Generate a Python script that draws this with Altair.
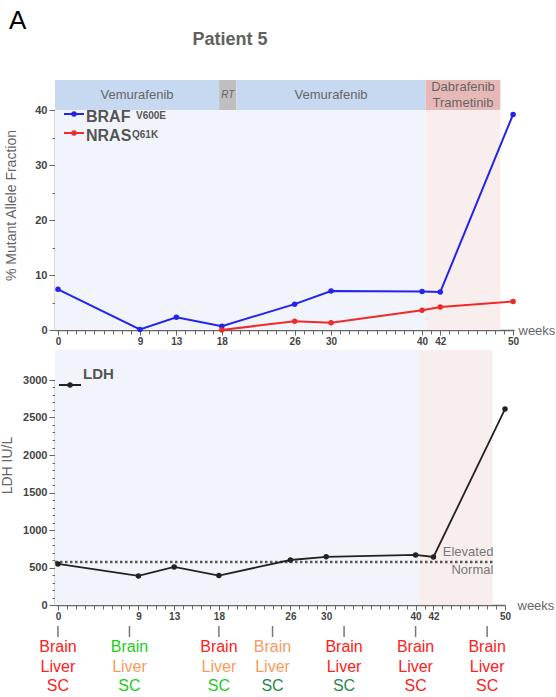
import altair as alt
import pandas as pd

FONT = "Liberation Sans"

# ---------------- data ----------------
weeks = [0, 9, 13, 18, 26, 30, 40, 42, 50]
braf_v600e = [7.4, 0.1, 2.3, 0.7, 4.7, 7.1, 7.0, 6.9, 39.2]
nras_weeks = [18, 26, 30, 40, 42, 50]
nras_q61k = [0.0, 1.6, 1.3, 3.6, 4.2, 5.2]
ldh_weeks = [0, 9, 13, 18, 26, 30, 40, 42, 50]
ldh_values = [548, 388, 508, 392, 600, 643, 667, 640, 2613]
ldh_limit = 573
tick_labels = [0, 9, 13, 18, 26, 30, 40, 42, 50]

treat_names = ["Vemurafenib", "RT", "Vemurafenib", "Dabrafenib\nTrametinib"]
treat_start = [0, 17.7, 19.6, 40.4]
treat_end = [17.7, 19.6, 40.4, 48.6]
treat_fill = ["#c6d9f1", "#bfbfbf", "#c6d9f1", "#e6b9b8"]

phase_start = [0, 40.4]
phase_end = [40.4, 48.6]
phase_fill = ["#f1f5fb", "#f9eeee"]

RED, GREEN, ORANGE, DKGREEN = "#ff2020", "#22cc22", "#f79b5e", "#1f8a4c"
scan_weeks = [0, 8, 18, 24, 32, 40, 48]
brain_color = [RED, GREEN, RED, ORANGE, RED, RED, RED]
liver_color = [RED, ORANGE, ORANGE, ORANGE, RED, RED, RED]
sc_color = [RED, GREEN, GREEN, DKGREEN, DKGREEN, RED, RED]

XMIN = -0.33
top_dom = [XMIN, 50.1]
bot_dom = [XMIN, 50.0]
TOP_W, TOP_H = 459, 220
BOT_W, BOT_H = 450, 225

# ---------------- tables ----------------
phase_df = pd.DataFrame({
    "start": [XMIN if s == 0 else s for s in phase_start],
    "end": phase_end, "fill": phase_fill})
treat_df = pd.DataFrame({
    "name": treat_names,
    "start": [XMIN if s == 0 else s for s in treat_start],
    "end": treat_end, "fill": treat_fill})
treat_df["mid"] = (treat_df["start"] + treat_df["end"]) / 2
braf_df = pd.DataFrame({"week": weeks, "value": braf_v600e})
nras_df = pd.DataFrame({"week": nras_weeks, "value": nras_q61k})
ldh_df = pd.DataFrame({"week": ldh_weeks, "value": ldh_values})

rows = []
for w, b, l, s in zip(scan_weeks, brain_color, liver_color, sc_color):
    rows += [{"week": w, "row": "Brain", "c": b},
             {"week": w, "row": "Liver", "c": l},
             {"week": w, "row": "SC", "c": s}]
annot_df = pd.DataFrame(rows)
scan_df = pd.DataFrame({"week": scan_weeks})

test_major_x = f"indexof({tick_labels}, datum.value) >= 0"


def x_axis(title_x):
    return alt.Axis(
        values=list(range(0, 51)), tickCount=500, format="d",
        labelExpr=f"{test_major_x} ? datum.label : ''",
        tickSize={"condition": {"test": test_major_x, "value": 5}, "value": 4},
        labelOverlap=False, labelFlush=False, labelFontSize=10, labelPadding=1,
        title="weeks", titleX=title_x, titleY=0, titleAlign="left",
        titleBaseline="middle", titleAngle=0, titleFontSize=13,
        titleFontWeight="normal", titleColor="#666",
    )


# ---------------- top panel ----------------
xt = alt.X("start:Q", scale=alt.Scale(domain=top_dom, nice=False, zero=False),
           axis=x_axis(TOP_W + 4))
yt_scale = alt.Scale(domain=[0, 40], nice=False)
yt_axis = alt.Axis(
    values=list(range(0, 41, 5)), tickCount=500, labelOverlap=False, format="d",
    labelExpr="datum.value % 10 == 0 ? datum.label : ''",
    tickSize={"condition": {"test": "datum.value % 10 == 0", "value": 6}, "value": 3},
    title="% Mutant Allele Fraction", titleX=-37, titleY=95, titleFontSize=14,
)

bg_top = alt.Chart(phase_df).mark_rect().encode(
    x=xt, x2="end:Q",
    y=alt.datum(0, scale=yt_scale, axis=yt_axis, type="quantitative"),
    y2=alt.datum(40),
    color=alt.Color("fill:N", scale=None))

hdr = alt.Chart(treat_df).mark_rect().encode(
    x="start:Q", x2="end:Q", y=alt.datum(40), y2=alt.datum(45.45),
    color=alt.Color("fill:N", scale=None))

hdr_txt = alt.Chart(treat_df).transform_filter(
    "datum.name == 'Vemurafenib'").mark_text(
    font=FONT, fontSize=13, color="#666", baseline="middle").encode(
    x="mid:Q", y=alt.datum(42.7), text="name:N")
hdr_txt2 = alt.Chart(treat_df).transform_filter(
    "indexof(datum.name, 'Dabrafenib') >= 0").mark_text(
    font=FONT, fontSize=13, color="#666", lineBreak="\n", lineHeight=16,
    baseline="middle", dy=-8).encode(
    x="mid:Q", y=alt.datum(42.7), text="name:N")
hdr_rt = alt.Chart(treat_df).transform_filter("datum.name == 'RT'").mark_text(
    font=FONT, fontSize=10, fontStyle="italic", color="#666",
    baseline="middle").encode(x="mid:Q", y=alt.datum(42.7), text="name:N")

braf_line = alt.Chart(braf_df).mark_line(
    color="#2323ee", strokeWidth=2,
    point=alt.OverlayMarkDef(filled=True, size=30, color="#2323ee")).encode(
    x="week:Q", y="value:Q")
nras_line = alt.Chart(nras_df).mark_line(
    color="#ee2a2a", strokeWidth=2,
    point=alt.OverlayMarkDef(filled=True, size=30, color="#ee2a2a")).encode(
    x="week:Q", y="value:Q")

# legend (top)
leg_df = pd.DataFrame({"k": [0]})
leg = alt.Chart(leg_df)
leg_items = []
for yy, col, name, sup, supx in [(4, "#2323ee", "BRAF", "V600E", 81),
                                 (23, "#ee2a2a", "NRAS", "Q61K", 77)]:
    leg_items.append(leg.mark_rule(color=col, strokeWidth=2).encode(
        x=alt.value(9), x2=alt.value(29), y=alt.value(yy)))
    leg_items.append(leg.mark_point(filled=True, size=30, color=col, opacity=1).encode(
        x=alt.value(19), y=alt.value(yy)))
    leg_items.append(leg.mark_text(
        text=name, font=FONT, fontSize=16, fontWeight="bold", color="#555",
        align="left", baseline="middle").encode(
        x=alt.value(31), y=alt.value(yy + 3)))
    leg_items.append(leg.mark_text(
        text=sup, font=FONT, fontSize=10, fontWeight="bold", color="#555",
        align="left", baseline="top").encode(
        x=alt.value(supx), y=alt.value(yy - 3)))

title_txt = leg.mark_text(text="Patient 5", font=FONT, fontSize=18,
                          fontWeight="bold", color="#606060",
                          baseline="middle").encode(x=alt.value(175), y=alt.value(-70))
a_txt = leg.mark_text(text="A", font=FONT, fontSize=26, color="#000",
                      align="left", baseline="middle").encode(
    x=alt.value(-46), y=alt.value(-89))

top = alt.layer(bg_top, hdr, hdr_txt, hdr_txt2, hdr_rt, braf_line, nras_line,
                *leg_items, title_txt, a_txt).properties(width=TOP_W, height=TOP_H)

# ---------------- bottom panel ----------------
xb = alt.X("start:Q", scale=alt.Scale(domain=bot_dom, nice=False, zero=False),
           axis=x_axis(BOT_W + 12))
yb_scale = alt.Scale(domain=[0, 3000], nice=False)
yb_axis = alt.Axis(
    values=list(range(0, 3001, 100)), tickCount=500, labelOverlap=False,
    labelExpr="datum.value % 500 == 0 ? datum.label : ''",
    tickSize={"condition": {"test": "datum.value % 500 == 0", "value": 6}, "value": 3},
    title="LDH IU/L", titleX=-41, titleY=85, titleFontSize=14, format="d",
)

bg_bot = alt.Chart(phase_df).mark_rect().encode(
    x=xb, x2="end:Q",
    y=alt.datum(0, scale=yb_scale, axis=yb_axis, type="quantitative"),
    y2=alt.datum(3400),
    color=alt.Color("fill:N", scale=None))

lim_df = pd.DataFrame({"x0": [XMIN], "x1": [48.7], "y": [ldh_limit]})
lim = alt.Chart(lim_df).mark_rule(color="#555", strokeWidth=2.5,
                                  strokeDash=[2.5, 2.5]).encode(
    x="x0:Q", x2="x1:Q", y="y:Q")
elev = alt.Chart(lim_df).mark_text(text="Elevated", font=FONT, fontSize=13,
                                   color="#777", align="right", dy=-10).encode(
    x="x1:Q", y="y:Q")
norm = alt.Chart(lim_df).mark_text(text="Normal", font=FONT, fontSize=13,
                                   color="#777", align="right", dy=8).encode(
    x="x1:Q", y="y:Q")

ldh_line = alt.Chart(ldh_df).mark_line(
    color="#222", strokeWidth=1.8,
    point=alt.OverlayMarkDef(filled=True, size=30, color="#222")).encode(
    x="week:Q", y="value:Q")

ldh_leg = [
    leg.mark_rule(color="#222", strokeWidth=2).encode(
        x=alt.value(4), x2=alt.value(26), y=alt.value(5)),
    leg.mark_point(filled=True, size=30, color="#222", opacity=1).encode(
        x=alt.value(15), y=alt.value(5)),
    leg.mark_text(text="LDH", font=FONT, fontSize=15, fontWeight="bold",
                  color="#555", align="left", baseline="middle").encode(
        x=alt.value(28), y=alt.value(-6)),
]

bottom_main = alt.layer(bg_bot, lim, ldh_line, elev, norm, *ldh_leg)

# ---------------- site annotations (below the LDH axis) ----------------
scan_ticks = alt.Chart(scan_df).mark_rule(color="#777", strokeWidth=1.5).encode(
    x="week:Q", y=alt.value(BOT_H + 21), y2=alt.value(BOT_H + 32))
scan_txt = alt.Chart(annot_df).mark_text(font=FONT, fontSize=16,
                                         baseline="middle").encode(
    x="week:Q",
    y=alt.Y("row:N", axis=None,
            scale=alt.Scale(type="point", domain=["Brain", "Liver", "SC"],
                            range=[BOT_H + 42, BOT_H + 81], padding=0)),
    text="row:N",
    color=alt.Color("c:N", scale=None))

bottom = alt.layer(bottom_main, scan_ticks, scan_txt).resolve_scale(
    y="independent").properties(width=BOT_W, height=BOT_H)

chart = alt.vconcat(top, bottom, spacing=50, bounds="flush").properties(
    padding={"left": 0, "top": 8, "right": 0, "bottom": 0},
    background="white",
).configure_axis(
    domainColor="#666", domainWidth=1.5, tickColor="#666", tickWidth=1,
    labelColor="#444", labelFont=FONT, labelFontWeight="bold", labelFontSize=11,
    titleFont=FONT, titleColor="#666", titleFontWeight="normal", grid=False,
).configure_view(stroke=None)

chart.save("out.html", embed_options={"renderer": "svg", "actions": False})
